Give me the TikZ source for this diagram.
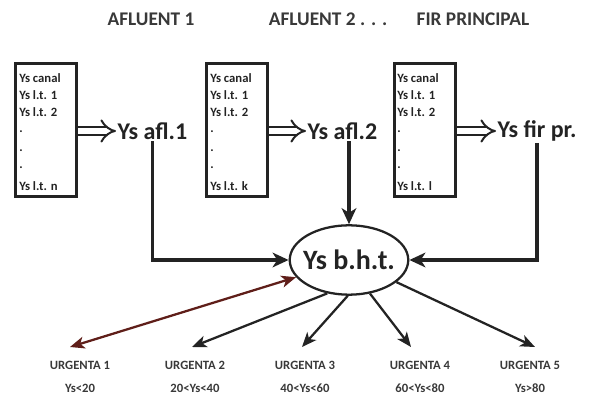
\documentclass[tikz,border=0pt]{standalone}
\usepackage{fontspec}
\setmainfont{Carlito}
\usetikzlibrary{arrows.meta,shapes.geometric}
\definecolor{ink}{RGB}{35,35,35}
\definecolor{rust}{RGB}{95,30,25}
\tikzset{
  hd/.tip={Stealth[length=11pt, width=9pt, inset=3pt]},
  head/.style={font=\bfseries\fontsize{14.5}{14.5}\selectfont, text=ink!90},
  listbox/.style={draw=ink, line width=2.2pt, minimum width=46pt, minimum height=100pt, inner sep=0pt},
  item/.style={anchor=west, font=\bfseries\fontsize{9.5}{9.5}\selectfont, inner sep=0pt, text=ink},
  ys/.style={font=\fontsize{18}{18}\selectfont\bfseries, text=ink, inner sep=1pt},
  feed/.style={draw=ink, line width=1.5pt, double=white, double distance=4.5pt, -{Implies[]}},
  flow/.style={draw=ink, line width=2.6pt, -{Stealth[length=12pt, width=11pt, inset=3.5pt]}},
  split/.style={draw=ink, line width=1.7pt, -{hd}},
  lvl/.style={font=\bfseries\fontsize{9.5}{9.5}\selectfont, text=ink!90, inner sep=0pt},
}
\begin{document}
\begin{tikzpicture}[x=0.75pt, y=-0.75pt]
\useasboundingbox (0,0) rectangle (590,395);

% column headings
\node[head] (h1) at (151,19) {AFLUENT 1};
\node[head] (h2) at (328,19) {AFLUENT 2 . . .};
\node[head] (h3) at (473,19) {FIR PRINCIPAL};

% three lists of values
\node[listbox] (box1) at (46,130) {};
\node[listbox] (box2) at (237,130) {};
\node[listbox] (box3) at (425,130) {};

\foreach \b/\x/\last in {1/19/Ys l.t. n, 2/210/Ys l.t. k, 3/397/Ys l.t. l}{
  \node[item] (b\b a) at (\x,78) {Ys canal};
  \node[item] (b\b b) at (\x,95) {Ys l.t. 1};
  \node[item] (b\b c) at (\x,112) {Ys l.t. 2};
  \node[item] (b\b d) at (\x,132) {.};
  \node[item] (b\b e) at (\x,151) {.};
  \node[item] (b\b f) at (\x,168) {.};
  \node[item] (b\b g) at (\x,186) {\last};
}

% aggregated values
\node[ys, anchor=west] (afl1) at (116,131) {Ys afl.1};
\node[ys, anchor=west] (afl2) at (306,131) {Ys afl.2};
\node[ys, anchor=west] (fir) at (496,131) {Ys fir pr.};

\draw[feed] (box1.east |- afl1.west) -- (afl1.west);
\draw[feed] (box2.east |- afl2.west) -- (afl2.west);
\draw[feed] (box3.east |- fir.west) -- (fir.west);

% basin node
\node[ellipse, draw=ink, line width=1.7pt, minimum height=52pt, inner xsep=-3pt, inner ysep=0pt,
      font=\fontsize{21}{21}\selectfont\bfseries, text=ink] (bht) at (349,260) {Ys b.h.t.};

\draw[flow] (afl1.south) |- (bht.west);
\draw[flow] (afl2.south -| bht.north) -- (bht.north);
\draw[flow] (fir.south) |- (bht.east);

% urgency levels
\node[lvl] (u1) at (80,365) {URGENTA 1};
\node[lvl] (u2) at (195,365) {URGENTA 2};
\node[lvl] (u3) at (305,365) {URGENTA 3};
\node[lvl] (u4) at (420,365) {URGENTA 4};
\node[lvl] (u5) at (530,365) {URGENTA 5};
\node[lvl] (r1) at (80,388) {Ys<20};
\node[lvl] (r2) at (195,388) {20<Ys<40};
\node[lvl] (r3) at (305,388) {40<Ys<60};
\node[lvl] (r4) at (420,388) {60<Ys<80};
\node[lvl] (r5) at (530,388) {Ys>80};

\coordinate (e1) at (70,347);
\coordinate (e2) at (192,347);
\coordinate (e3) at (302,347);
\coordinate (e4) at (411,347);
\coordinate (e5) at (535,347);

\draw[split, draw=rust, {hd}-{hd}] (bht.198) -- (e1);
\draw[split] (bht.237) -- (e2);
\draw[split] (bht.268) -- (e3);
\draw[split] (bht.302) -- (e4);
\draw[split] (bht.335) -- (e5);
\end{tikzpicture}
\end{document}
